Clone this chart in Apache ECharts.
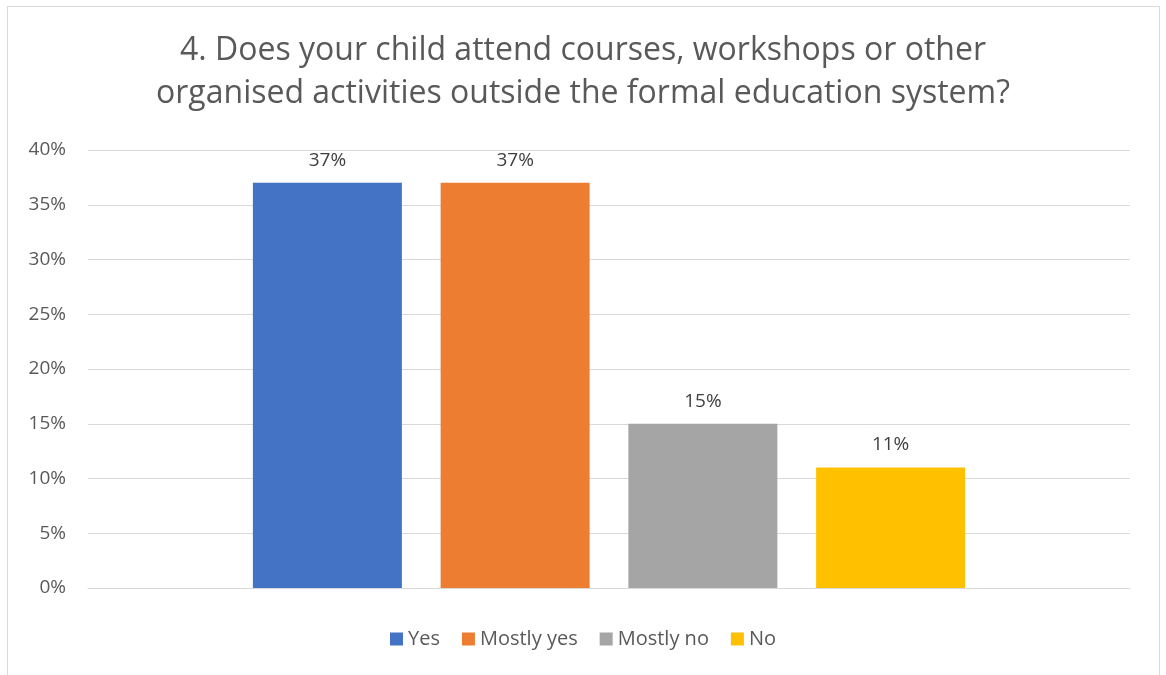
<!DOCTYPE html>
<html>
<head>
<meta charset="utf-8">
<script src="https://cdn.jsdelivr.net/npm/echarts@6/dist/echarts.min.js"></script>
<style>
  html, body { margin: 0; padding: 0; background: #fff; }
  #main { width: 1166px; height: 675px; }
  .frame { position: absolute; left: 7px; top: 6px; width: 1151px; height: 700px; border: 1px solid #d9d9d9; pointer-events: none; }
</style>
</head>
<body>
<div id="main"></div>
<div class="frame"></div>
<script>
/* 数据 */
var category = ['Q4'];
var seriesNames = ['Yes', 'Mostly yes', 'Mostly no', 'No'];
var seriesValues = [37, 37, 15, 11];
var seriesColors = ['#4472c4', '#ed7d31', '#a5a5a5', '#ffc000'];

var myChart = echarts.init(document.getElementById('main'));

var series = [];
for (var i = 0; i < seriesNames.length; i++) {
  series.push({
    name: seriesNames[i],
    type: 'bar',
    barWidth: 149,
    barGap: '26%',
    itemStyle: { color: seriesColors[i] },
    label: {
      show: true,
      position: 'top',
      distance: 13,
      formatter: '{c}%',
      color: '#404040',
      fontSize: 19,
      fontFamily: 'Open Sans'
    },
    data: [seriesValues[i]]
  });
}

var option = {
  animation: false,
  title: {
    text: '4. Does your child attend courses, workshops or other\norganised activities outside the formal education system?',
    left: 'center',
    top: 24,
    textStyle: {
      color: '#595959',
      fontWeight: 'normal',
      fontFamily: 'Open Sans',
      fontSize: 32,
      lineHeight: 43
    }
  },
  legend: {
    bottom: 21,
    left: 'center',
    itemWidth: 13,
    itemHeight: 13,
    itemGap: 22,
    icon: 'rect',
    textStyle: { color: '#595959', fontSize: 20, fontFamily: 'Open Sans' },
    data: seriesNames
  },
  grid: { left: 88, right: 36, top: 150, bottom: 87 },
  xAxis: {
    type: 'category',
    data: category,
    axisLine: { show: true, lineStyle: { color: '#d9d9d9', width: 1 } },
    axisTick: { show: false },
    axisLabel: { show: false }
  },
  yAxis: {
    type: 'value',
    min: 0,
    max: 40,
    interval: 5,
    axisLine: { show: false },
    axisTick: { show: false },
    splitLine: { lineStyle: { color: '#d9d9d9', width: 1 } },
    axisLabel: {
      formatter: '{value}%',
      color: '#595959',
      fontSize: 19,
      fontFamily: 'Open Sans',
      margin: 22
    }
  },
  series: series
};
myChart.setOption(option);
</script>
</body>
</html>
